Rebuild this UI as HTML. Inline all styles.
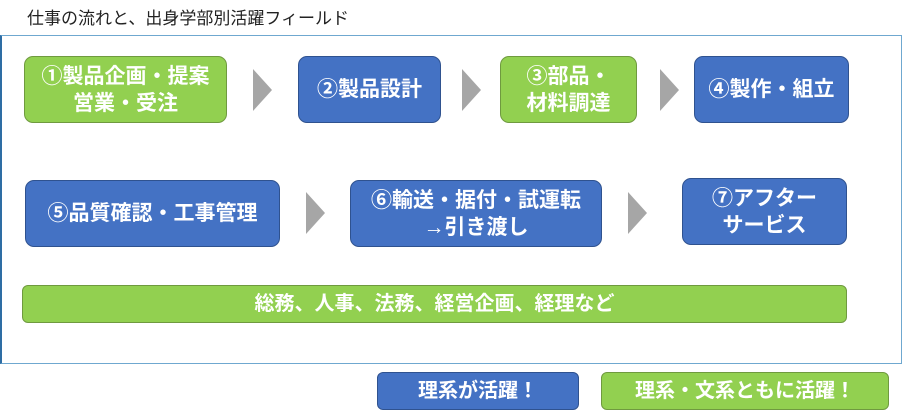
<!DOCTYPE html><html><head><meta charset="utf-8"><style>
body{margin:0;width:902px;height:417px;background:#fff;position:relative;overflow:hidden;font-family:"Liberation Sans","Noto Sans CJK JP",sans-serif}
.t{position:absolute;left:27px;top:4px;font-size:17px;color:#222}
.frame{position:absolute;left:0;top:35px;width:899px;height:327px;border:1.5px solid #6fa8d0;border-left:2px solid #2e6da4}
.b{position:absolute;box-sizing:border-box;border-radius:9px;color:#fff;font-weight:bold;font-size:21px;display:flex;align-items:center;justify-content:center;text-align:center;line-height:27px}
.g{background:#92d050;border:1.5px solid #6f9a3f}
.u{background:#4472c4;border:1.5px solid #2f528f}
.a{position:absolute;width:0;height:0;border-top:21px solid transparent;border-bottom:21px solid transparent;border-left:19px solid #a6a6a6}
</style></head><body>
<div class="t">仕事の流れと、出身学部別活躍フィールド</div>
<div class="frame"></div>
<div class="b g" style="left:24px;top:56px;width:203px;height:67px">①製品企画・提案<br>営業・受注</div>
<div class="a" style="left:253px;top:69px"></div>
<div class="b u" style="left:298px;top:56px;width:143px;height:67px">②製品設計</div>
<div class="a" style="left:462px;top:69px"></div>
<div class="b g" style="left:500px;top:56px;width:137px;height:67px">③部品・<br>材料調達</div>
<div class="a" style="left:660px;top:69px"></div>
<div class="b u" style="left:694px;top:56px;width:155px;height:67px">④製作・組立</div>
<div class="b u" style="left:25px;top:180px;width:255px;height:67px">⑤品質確認・工事管理</div>
<div class="a" style="left:306px;top:192px"></div>
<div class="b u" style="left:350px;top:180px;width:252px;height:67px">⑥輸送・据付・試運転<br>→引き渡し</div>
<div class="a" style="left:628px;top:192px"></div>
<div class="b u" style="left:682px;top:178px;width:165px;height:67px">⑦アフター<br>サービス</div>
<div class="b g" style="left:22px;top:285px;width:825px;height:38px;border-radius:6px;font-size:20px">総務、人事、法務、経営企画、経理など</div>
<div class="b u" style="left:377px;top:372px;width:202px;height:38px;border-radius:6px;font-size:20px">理系が活躍！</div>
<div class="b g" style="left:601px;top:372px;width:288px;height:38px;border-radius:6px;font-size:20px">理系・文系ともに活躍！</div>
</body></html>
